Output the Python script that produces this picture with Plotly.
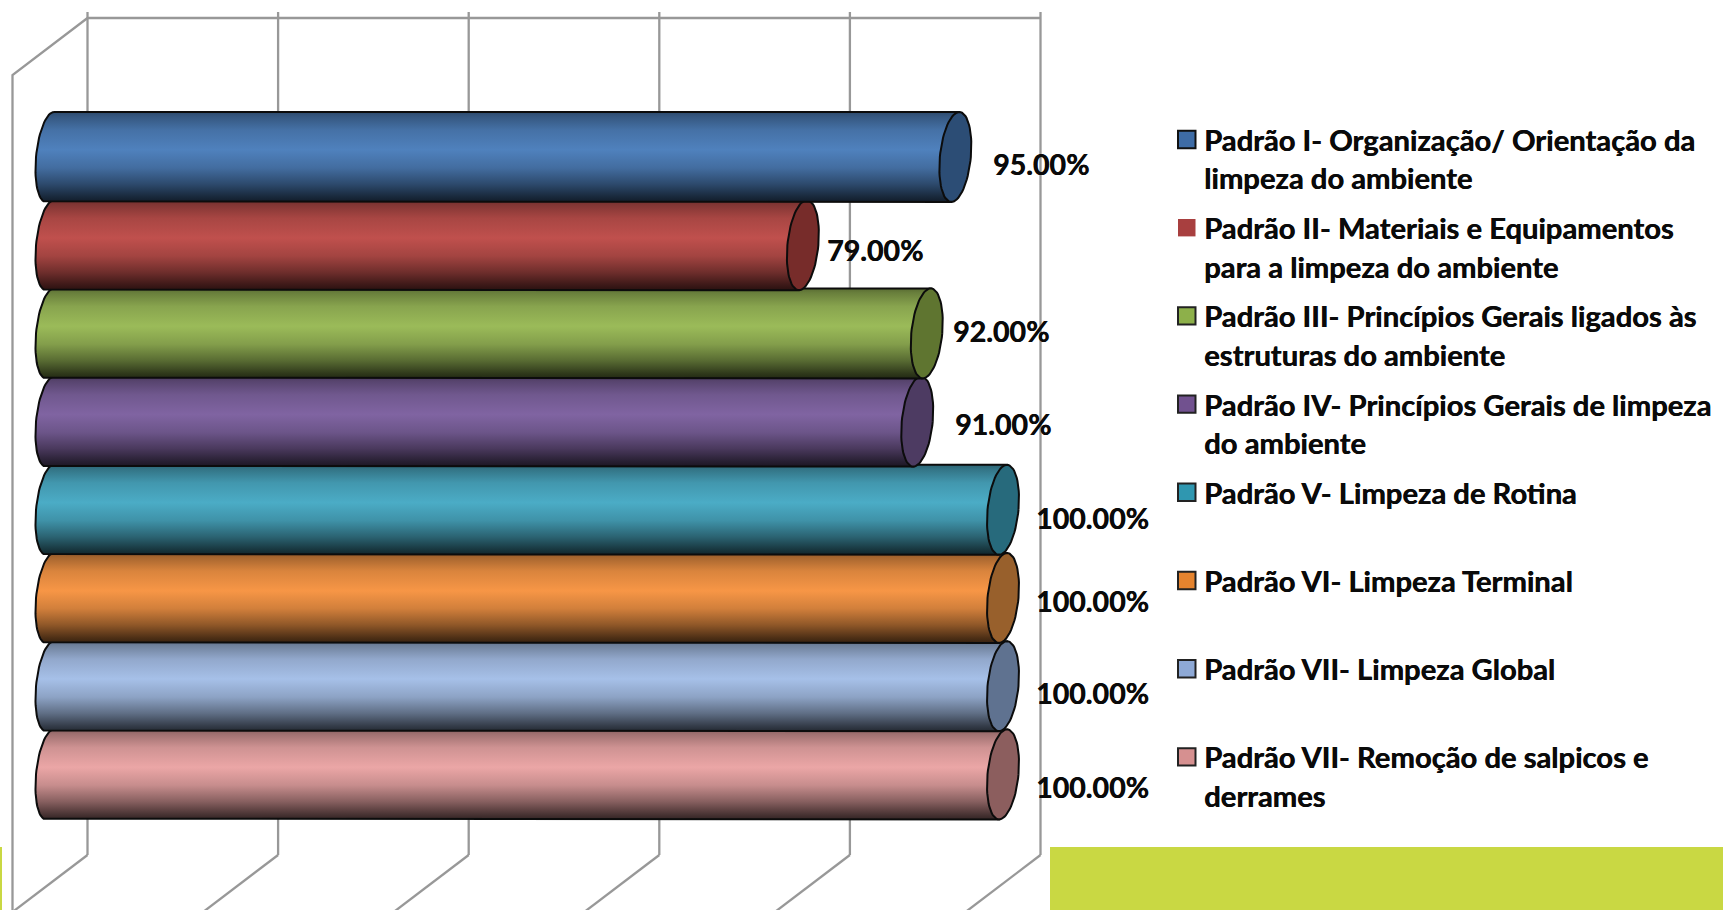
import numpy as np
import plotly.graph_objects as go

series_names = [
    "Padrão I- Organização/ Orientação da<br>limpeza do ambiente",
    "Padrão II- Materiais e Equipamentos<br>para a limpeza do ambiente",
    "Padrão III- Princípios Gerais ligados às<br>estruturas do ambiente",
    "Padrão IV- Princípios Gerais de limpeza<br>do ambiente",
    "Padrão V- Limpeza de Rotina",
    "Padrão VI- Limpeza Terminal",
    "Padrão VII- Limpeza Global",
    "Padrão VII- Remoção de salpicos e<br>derrames",
]
series_values = [95, 79, 92, 91, 100, 100, 100, 100]
axis_ticks = [0, 20, 40, 60, 80, 100]
base_colors = ["#4F81BD", "#C0504D", "#9BBB59", "#8064A2", "#4BACC6", "#F79646", "#A6C0E8", "#EBA6A6"]
cap_colors = ["#2C4D75", "#772C2A", "#5F7530", "#4D3B62", "#276A7C", "#98602C", "#5F7290", "#8C5E5E"]
legend_colors = ["#3E6CA6", "#A83F3F", "#8DB04A", "#71518F", "#2F97B0", "#E5832E", "#8EA9D6", "#D69090"]
legend_borders = ["#111111", None, "#222222", "#222222", "#222222", "#222222", "#222222", "#222222"]
label_dx = [86, 72, 74, 86, 89, 89, 89, 89]
label_dy = [7, 5, -2, 2, 8, 3, 7, 13]

W, H = 1723, 910
PX_X0, PX_PER_UNIT = 50.0, 9.53
PX_Y0, PX_PER_CAT = 157.0, 88.2


def rgb_scale(color, k):
    r, g, b = int(color[1:3], 16), int(color[3:5], 16), int(color[5:7], 16)
    return f"rgb({int(r*k)},{int(g*k)},{int(b*k)})"


def dx(px):
    return (px - PX_X0) / PX_PER_UNIT


def dy(py):
    return (py - PX_Y0) / PX_PER_CAT


RX, SHEAR, RY = 15.5 / PX_PER_UNIT, 4 / PX_PER_UNIT, 0.51
RX_LEFT = 14 / PX_PER_UNIT
DEPTH = 37.5 / PX_PER_UNIT

fig = go.Figure()

# grid walls
gx, gy = [], []
top, wall_top, floor_back, floor_front = dy(18), dy(12), dy(855), dy(912)
front_top = dy(75)
for v in axis_ticks:
    gx += [v + DEPTH, v + DEPTH, None, v + DEPTH, v - DEPTH, None]
    gy += [wall_top, floor_back, None, floor_back, floor_front, None]
gx += [axis_ticks[0] + DEPTH, axis_ticks[-1] + DEPTH, None,
       axis_ticks[0] + DEPTH, axis_ticks[0] - DEPTH, axis_ticks[0] - DEPTH]
gy += [top, top, None, top, front_top, floor_front]
fig.add_trace(go.Scatter(x=gx, y=gy, mode="lines", line=dict(color="#989898", width=2.3),
                         hoverinfo="skip", showlegend=False))

t = np.linspace(0, 2 * np.pi, 73)
half = np.linspace(np.pi / 2, 3 * np.pi / 2, 37)

# bars: drawn from the last to the first so upper cylinders overlap lower ones
for i in range(len(series_values) - 1, -1, -1):
    v, c, cap = series_values[i], base_colors[i], cap_colors[i]
    # body
    lx = RX_LEFT * np.cos(half) + SHEAR * np.sin(half)
    ly = i - RY * np.sin(half)
    bx = [SHEAR, v + SHEAR, v - SHEAR] + list(lx[::-1])
    by = [i - RY, i - RY, i + RY] + list(ly[::-1])
    stops = [[0, 0.22], [0.06, 0.32], [0.2, 0.58], [0.38, 0.85], [0.58, 1.0], [0.8, 0.88], [0.95, 0.68], [1, 0.58]]
    scale = [[p, rgb_scale(c, k)] for p, k in stops]
    fig.add_trace(go.Scatter(
        x=bx, y=by, mode="lines", fill="toself",
        fillgradient=dict(type="vertical", colorscale=scale),
        line=dict(color="#0c0c0c", width=2), name=series_names[i].replace("<br>", " "),
        hoverinfo="skip", showlegend=False))
    # end cap
    ex = v + RX * np.cos(t) + SHEAR * np.sin(t)
    ey = i - RY * np.sin(t)
    fig.add_trace(go.Scatter(x=ex, y=ey, mode="lines", fill="toself", fillcolor=cap,
                             line=dict(color="#0c0c0c", width=2),
                             hoverinfo="skip", showlegend=False))

LABEL_FONT = dict(family="Lato", size=28.5, color="#0a0a0a", weight="bold", shadow="0.5px 0 0 #0a0a0a")
LEGEND_FONT = dict(family="Lato", size=29.2, color="#0a0a0a", weight="bold", shadow="0.5px 0 0 #0a0a0a")
annotations = []
for i, v in enumerate(series_values):
    annotations.append(dict(x=v, y=i, xref="x", yref="y", text=f"<b>{v:.2f}%</b>", showarrow=False,
                            xanchor="center", yanchor="middle",
                            xshift=label_dx[i], yshift=-label_dy[i], font=LABEL_FONT))

shapes = [
    dict(type="rect", xref="paper", yref="paper", x0=1050 / W, x1=1, y0=0, y1=1 - 847 / H,
         fillcolor="#C9D843", line_width=0, layer="below"),
    dict(type="rect", xref="paper", yref="paper", x0=0, x1=2 / W, y0=0, y1=1 - 847 / H,
         fillcolor="#C9D843", line_width=0, layer="below"),
]
LEG_X, LEG_Y0, LEG_DY, LINE_H = 1202, 139.5, 88.2, 38.5
for i, name in enumerate(series_names):
    cy = LEG_Y0 + i * LEG_DY
    border = legend_borders[i]
    shapes.append(dict(type="rect", xref="paper", yref="paper",
                       x0=1178 / W, x1=1195.5 / W, y0=1 - (cy + 8.7) / H, y1=1 - (cy - 8.7) / H,
                       fillcolor=legend_colors[i],
                       line=dict(color=border, width=2) if border else dict(width=0)))
    for j, line in enumerate(name.split("<br>")):
        annotations.append(dict(x=LEG_X / W, y=1 - (cy + j * LINE_H) / H, xref="paper", yref="paper",
                                text=f"<b>{line}</b>", showarrow=False, xanchor="left", yanchor="middle",
                                font=LEGEND_FONT))

fig.update_layout(
    width=W, height=H, margin=dict(l=0, r=0, t=0, b=0),
    paper_bgcolor="white", plot_bgcolor="rgba(0,0,0,0)", showlegend=False,
    xaxis=dict(visible=False, range=[dx(0), dx(W)], fixedrange=True),
    yaxis=dict(visible=False, range=[dy(H), dy(0)], fixedrange=True),
    annotations=annotations, shapes=shapes,
)
fig.write_html("out.html", config={"displayModeBar": False},
               post_script="document.body.style.margin='0';document.body.style.overflow='hidden';")
